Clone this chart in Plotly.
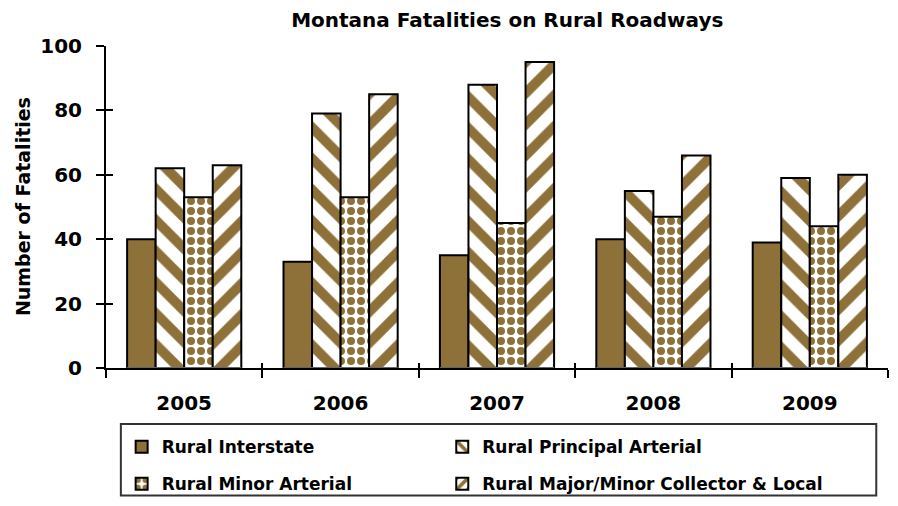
import plotly.graph_objs as go

years = ["2005", "2006", "2007", "2008", "2009"]
interstate = [40, 33, 35, 40, 39]
principal = [62, 79, 88, 55, 59]
minor = [53, 53, 45, 47, 44]
collector = [63, 85, 95, 66, 60]

series_names = [
    "Rural Interstate",
    "Rural Principal Arterial",
    "Rural Minor Arterial",
    "Rural Major/Minor Collector & Local",
]

BROWN = "#8D7138"
FONT = "DejaVu Sans"
LEGEND_FONT = dict(size=17, family=FONT, color="black", weight="bold")

fig = go.Figure()

fig.add_trace(go.Bar(
    x=years, y=interstate, name=series_names[0], legend="legend", legendgroup="a",
    marker=dict(color=BROWN, line=dict(color="black", width=2)),
))
fig.add_trace(go.Bar(
    x=years, y=principal, name=series_names[1], legend="legend2", legendgroup="b",
    marker=dict(color="white", line=dict(color="black", width=2),
                pattern=dict(shape="\\", fgcolor=BROWN, bgcolor="white",
                             size=22, solidity=0.45, fgopacity=1)),
))
fig.add_trace(go.Bar(
    x=years, y=minor, name=series_names[2], legend="legend", legendgroup="c",
    marker=dict(color="white", line=dict(color="black", width=2),
                pattern=dict(shape=".", fgcolor=BROWN, bgcolor="white",
                             size=10, solidity=0.5, fgopacity=1)),
))
fig.add_trace(go.Bar(
    x=years, y=collector, name=series_names[3], legend="legend2", legendgroup="d",
    marker=dict(color="white", line=dict(color="black", width=2),
                pattern=dict(shape="/", fgcolor=BROWN, bgcolor="white",
                             size=22, solidity=0.45, fgopacity=1)),
))

# invisible trace on overlay axes, used only for the inner half of the ticks
fig.add_trace(go.Bar(x=years, y=[0] * len(years), xaxis="x2", yaxis="y2",
                     showlegend=False, hoverinfo="skip",
                     marker=dict(color="rgba(0,0,0,0)")))

# legend frame
fig.add_shape(type="rect", xref="paper", yref="paper",
              x0=0.019, x1=0.985, y0=-0.396, y1=-0.174,
              line=dict(color="#333333", width=2), fillcolor="white", layer="below")

fig.add_annotation(text="<b>Number of Fatalities</b>", textangle=-90,
                   xref="paper", yref="paper", x=-0.106, y=0.5,
                   xanchor="center", yanchor="middle", showarrow=False,
                   font=dict(size=19, family=FONT, color="black"))

fig.update_layout(
    width=898, height=506,
    margin=dict(l=98, r=18, t=38, b=140),
    paper_bgcolor="white", plot_bgcolor="white",
    barmode="group", bargap=0.27, bargroupgap=0,
    font=dict(family=FONT, color="black"),
    title=dict(text="<b>Montana Fatalities on Rural Roadways</b>",
               x=0.556, xanchor="center", y=0.976, yanchor="middle",
               font=dict(size=20, family=FONT, color="black")),
    showlegend=True,
    legend=dict(orientation="v", x=0.02, xanchor="left", y=-0.19, yanchor="top",
                font=LEGEND_FONT, bgcolor="rgba(0,0,0,0)", itemwidth=30,
                tracegroupgap=12, traceorder="grouped"),
    legend2=dict(orientation="v", x=0.43, xanchor="left", y=-0.19, yanchor="top",
                 font=LEGEND_FONT, bgcolor="rgba(0,0,0,0)", itemwidth=30,
                 tracegroupgap=12, traceorder="grouped"),
    xaxis=dict(
        showline=True, linecolor="black", linewidth=2,
        ticks="outside", tickson="boundaries", ticklen=8, tickwidth=2, tickcolor="black",
        tickfont=dict(size=20, family=FONT, color="black", weight="bold"),
        ticklabelstandoff=16,
        showgrid=False, automargin=False,
    ),
    yaxis=dict(
        range=[0, 100], tickvals=[0, 20, 40, 60, 80, 100],
        showline=True, linecolor="black", linewidth=2,
        ticks="outside", ticklen=8, tickwidth=2, tickcolor="black",
        tickfont=dict(size=20, family=FONT, color="black", weight="bold"),
        ticklabelstandoff=10,
        showgrid=False, zeroline=False, automargin=False,
    ),
    xaxis2=dict(
        overlaying="x", anchor="y", side="bottom", matches="x",
        ticks="inside", tickson="boundaries", ticklen=5, tickwidth=2, tickcolor="black",
        showticklabels=False, showgrid=False, showline=False, automargin=False,
    ),
    yaxis2=dict(
        overlaying="y", anchor="x", side="left", range=[0, 100],
        tickvals=[0, 20, 40, 60, 80, 100],
        ticks="inside", ticklen=7, tickwidth=2, tickcolor="black",
        showticklabels=False, showgrid=False, showline=False, zeroline=False,
        automargin=False,
    ),
)

fig.write_html("out.html")
